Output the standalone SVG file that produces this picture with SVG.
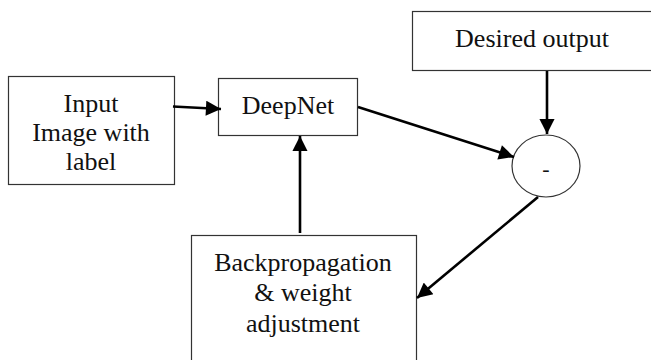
<svg xmlns="http://www.w3.org/2000/svg" width="651" height="360" viewBox="0 0 651 360">
  <style>
    .box { fill: #ffffff; stroke: #333333; stroke-width: 1.2; }
    .lbl { font-family: "Liberation Serif", "Times New Roman", serif; font-size: 26px; fill: #111111; text-anchor: middle; }
    .edge { fill: none; stroke: #000000; stroke-width: 2.6; }
  </style>
  <defs>
    <marker id="arrow" viewBox="0 0 10 10" refX="10" refY="5" markerWidth="6.2" markerHeight="5.8" markerUnits="strokeWidth" orient="auto">
      <path d="M0,0 L10,5 L0,10 Z" fill="#000000"/>
    </marker>
  </defs>
  <rect width="651" height="360" fill="#ffffff"/>

  <g id="input">
    <rect class="box" x="8.5" y="76.5" width="166" height="108"/>
    <text class="lbl" x="91" y="112">Input</text>
    <text class="lbl" x="91" y="141">Image with</text>
    <text class="lbl" x="91" y="170">label</text>
  </g>

  <g id="deepnet">
    <rect class="box" x="218.5" y="78.5" width="139" height="57"/>
    <text class="lbl" x="288" y="114">DeepNet</text>
  </g>

  <g id="desired-output">
    <rect class="box" x="412.5" y="11.5" width="245" height="59"/>
    <text class="lbl" x="532" y="47">Desired output</text>
  </g>

  <g id="difference">
    <ellipse class="box" cx="546" cy="166" rx="34" ry="31"/>
    <text class="lbl" x="546" y="176" style="font-size:22px">-</text>
  </g>

  <g id="backprop">
    <rect class="box" x="191.5" y="235.5" width="225" height="140"/>
    <text class="lbl" x="303" y="271">Backpropagation</text>
    <text class="lbl" x="303" y="301">&amp; weight</text>
    <text class="lbl" x="303" y="332">adjustment</text>
  </g>

  <g id="connectors">
    <line class="edge" x1="173" y1="106.5" x2="221" y2="109" marker-end="url(#arrow)"/>
    <line class="edge" x1="358" y1="107" x2="514" y2="157" marker-end="url(#arrow)"/>
    <line class="edge" x1="547" y1="71" x2="547" y2="134" marker-end="url(#arrow)"/>
    <line class="edge" x1="538" y1="197" x2="417" y2="298" marker-end="url(#arrow)"/>
    <line class="edge" x1="300" y1="233" x2="300" y2="136" marker-end="url(#arrow)"/>
  </g>
</svg>
